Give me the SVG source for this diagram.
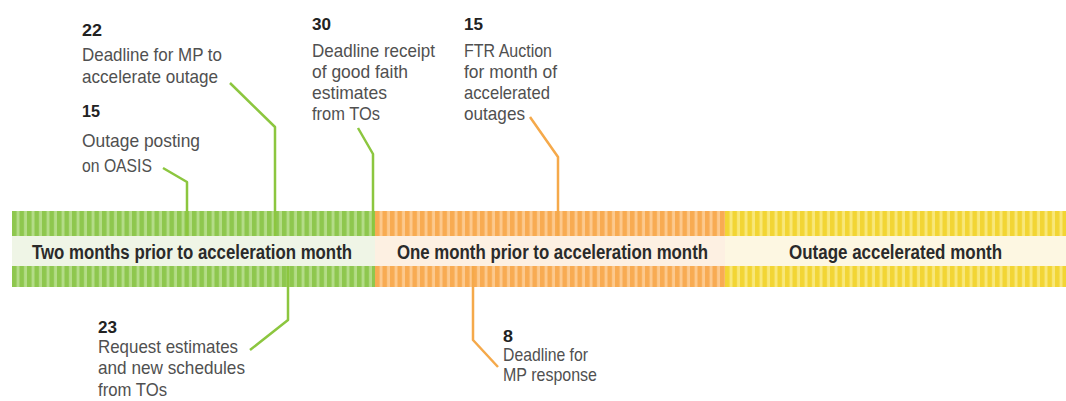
<svg xmlns="http://www.w3.org/2000/svg" width="1066" height="401" viewBox="0 0 1066 401">
<style>
.num{font-family:"Liberation Sans",Arial,sans-serif;font-weight:bold;font-size:17px;fill:#222}
.txt{font-family:"Liberation Sans",Arial,sans-serif;font-size:19px;fill:#505050}
.bar{font-family:"Liberation Sans",Arial,sans-serif;font-weight:bold;font-size:20px;fill:#2a2a2a}
.cg{fill:none;stroke:#8cc63f;stroke-width:2.5;stroke-linejoin:round}
.co{fill:none;stroke:#f5a94a;stroke-width:2.5;stroke-linejoin:round}
</style>
<defs>
<pattern id="pg" patternUnits="userSpaceOnUse" x="12" y="0" width="7.5" height="10">
<rect width="7.5" height="10" fill="#b4dc88"/><rect width="4.5" height="10" fill="#8ec74e"/>
</pattern>
<pattern id="po" patternUnits="userSpaceOnUse" x="375" y="0" width="7.5" height="10">
<rect width="7.5" height="10" fill="#fcc98e"/><rect width="4.5" height="10" fill="#f8ab52"/>
</pattern>
<pattern id="py" patternUnits="userSpaceOnUse" x="725" y="0" width="7.5" height="10">
<rect width="7.5" height="10" fill="#f8e77a"/><rect width="4.5" height="10" fill="#f2d534"/>
</pattern>
</defs>
<rect width="1066" height="401" fill="#ffffff"/>
<g id="bar-two-months">
<rect x="12" y="211" width="363" height="25" fill="url(#pg)"/>
<rect x="12" y="236" width="363" height="30" fill="#eff5e6"/>
<rect x="12" y="266" width="363" height="21" fill="url(#pg)"/>
<text class="bar" x="32" y="259" textLength="320" lengthAdjust="spacingAndGlyphs">Two months prior to acceleration month</text>
</g>
<g id="bar-one-month">
<rect x="375" y="211" width="350" height="25" fill="url(#po)"/>
<rect x="375" y="236" width="350" height="30" fill="#fdf0e2"/>
<rect x="375" y="266" width="350" height="21" fill="url(#po)"/>
<text class="bar" x="397" y="259" textLength="311" lengthAdjust="spacingAndGlyphs">One month prior to acceleration month</text>
</g>
<g id="bar-accelerated">
<rect x="725" y="211" width="341" height="25" fill="url(#py)"/>
<rect x="725" y="236" width="341" height="30" fill="#fdf7e2"/>
<rect x="725" y="266" width="341" height="21" fill="url(#py)"/>
<text class="bar" x="789" y="259" textLength="213" lengthAdjust="spacingAndGlyphs">Outage accelerated month</text>
</g>
<g id="connectors">
<polyline class="cg" points="230,83 275,127 275,236"/>
<polyline class="cg" points="163,168 187,182 187,236"/>
<polyline class="cg" points="358,128 373,154 373,236"/>
<polyline class="co" points="530,117 558,157 558,236"/>
<polyline class="cg" points="250,350 288,320 288,266"/>
<polyline class="co" points="473,266 473,340 498,367"/>
</g>
<g id="note-22">
<text class="num" x="82" y="36" textLength="20" lengthAdjust="spacingAndGlyphs">22</text>
<text class="txt" x="82" y="61" textLength="140" lengthAdjust="spacingAndGlyphs">Deadline for MP to</text>
<text class="txt" x="82" y="83" textLength="136" lengthAdjust="spacingAndGlyphs">accelerate outage</text>
</g>
<g id="note-15-oasis">
<text class="num" x="82" y="117" textLength="18" lengthAdjust="spacingAndGlyphs">15</text>
<text class="txt" x="82" y="147" textLength="118" lengthAdjust="spacingAndGlyphs">Outage posting</text>
<text class="txt" x="82" y="172" textLength="70" lengthAdjust="spacingAndGlyphs">on OASIS</text>
</g>
<g id="note-30">
<text class="num" x="312" y="30" textLength="19" lengthAdjust="spacingAndGlyphs">30</text>
<text class="txt" x="312" y="57" textLength="123" lengthAdjust="spacingAndGlyphs">Deadline receipt</text>
<text class="txt" x="312" y="78" textLength="96" lengthAdjust="spacingAndGlyphs">of good faith</text>
<text class="txt" x="312" y="99" textLength="75" lengthAdjust="spacingAndGlyphs">estimates</text>
<text class="txt" x="312" y="120" textLength="68" lengthAdjust="spacingAndGlyphs">from TOs</text>
</g>
<g id="note-15-ftr">
<text class="num" x="464" y="30" textLength="19" lengthAdjust="spacingAndGlyphs">15</text>
<text class="txt" x="464" y="57" textLength="88" lengthAdjust="spacingAndGlyphs">FTR Auction</text>
<text class="txt" x="464" y="78" textLength="93" lengthAdjust="spacingAndGlyphs">for month of</text>
<text class="txt" x="464" y="99" textLength="86" lengthAdjust="spacingAndGlyphs">accelerated</text>
<text class="txt" x="464" y="120" textLength="61" lengthAdjust="spacingAndGlyphs">outages</text>
</g>
<g id="note-23">
<text class="num" x="98" y="333" textLength="19" lengthAdjust="spacingAndGlyphs">23</text>
<text class="txt" x="98" y="353" textLength="140" lengthAdjust="spacingAndGlyphs">Request estimates</text>
<text class="txt" x="98" y="374" textLength="147" lengthAdjust="spacingAndGlyphs">and new schedules</text>
<text class="txt" x="98" y="396" textLength="69" lengthAdjust="spacingAndGlyphs">from TOs</text>
</g>
<g id="note-8">
<text class="num" x="503" y="342" textLength="10" lengthAdjust="spacingAndGlyphs">8</text>
<text class="txt" x="503" y="361" textLength="85" lengthAdjust="spacingAndGlyphs">Deadline for</text>
<text class="txt" x="503" y="381" textLength="94" lengthAdjust="spacingAndGlyphs">MP response</text>
</g>
</svg>
